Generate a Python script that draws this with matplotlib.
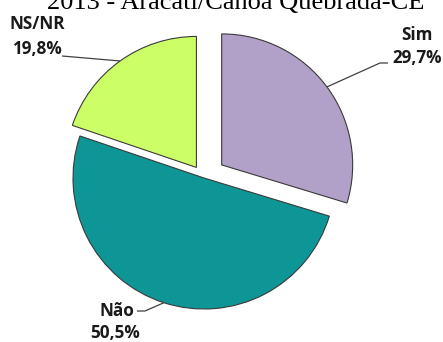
import numpy as np
import matplotlib
matplotlib.use("Agg")
import matplotlib.pyplot as plt

# Survey answers (percent)
categories = ["Sim", "Não", "NS/NR"]
values = [29.7, 50.5, 19.8]
value_labels = ["29,7%", "50,5%", "19,8%"]
colors = ["#B1A0C7", "#0E9696", "#CCFF66"]
title = "2013 - Aracati/Canoa Quebrada-CE"

W, H = 443, 342
RADIUS = 131
# slice offsets from the pie centre, in pixels
explode = [22, 0, 13]

fig = plt.figure(figsize=(W / 100, H / 100), dpi=100)
ax = fig.add_axes([0, 0, 1, 1])


def py(y):
    # convert a top-down pixel row into the axes' y coordinate
    return H - y


wedges, _ = ax.pie(values, colors=colors, explode=explode, startangle=90,
                   counterclock=False, radius=RADIUS, center=(204, py(178)),
                   wedgeprops=dict(edgecolor="#3a3a3a", linewidth=0.8))

ax.set_xlim(0, W)
ax.set_ylim(0, H)
ax.set_aspect("equal")
ax.axis("off")

label_font = dict(family=["Open Sans", "DejaVu Sans"], fontweight="bold",
                  fontsize=12.3, color="#1a1a1a")

# label name / value positions and the leader knee for each slice
name_pos = [(417, 35), (117, 311), (37, 24)]
value_pos = [(417, 58), (115, 333), (37, 49)]
knees = [[(380, 63), (388, 63)], [(145, 311), (137, 311)], [(62, 56)]]

for w, name, vlab, npos, vpos, knee in zip(wedges, categories, value_labels,
                                          name_pos, value_pos, knees):
    mid = np.deg2rad((w.theta1 + w.theta2) / 2)
    cx, cy = w.center
    ax_x = cx + w.r * np.cos(mid)
    ax_y = cy + w.r * np.sin(mid)
    xs = [ax_x] + [k[0] for k in knee]
    ys = [ax_y] + [py(k[1]) for k in knee]
    ax.plot(xs, ys, color="#404040", lw=0.9, solid_capstyle="butt")
    ax.text(npos[0], py(npos[1]), name, ha="center", va="center", **label_font)
    ax.text(vpos[0], py(vpos[1]), vlab, ha="center", va="center", **label_font)

ax.text(236, py(9), title, ha="center", va="baseline",
        family=["Liberation Serif", "DejaVu Serif"], fontsize=19, color="black")

fig.savefig("out.png", dpi=100)
